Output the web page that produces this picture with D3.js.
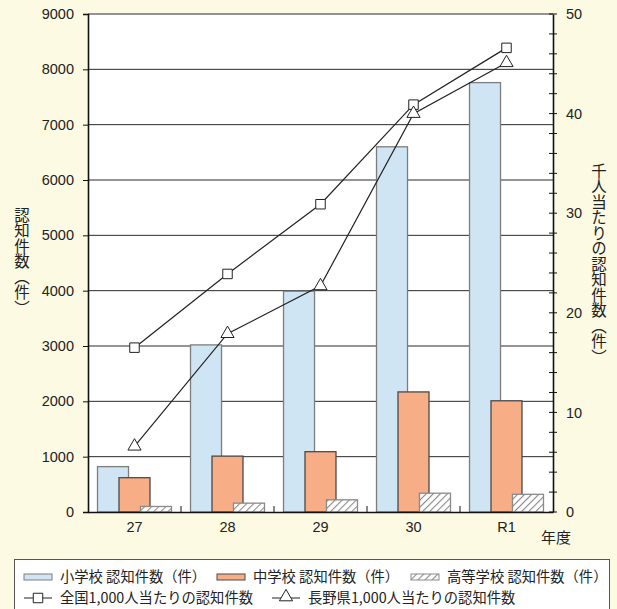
<!DOCTYPE html>
<html>
<head>
<meta charset="utf-8">
<script src="https://cdn.jsdelivr.net/npm/d3@7"></script>
<style>
  html, body { margin: 0; padding: 0; background: #fdfae3; }
  svg { display: block; }
  text { font-family: "Liberation Sans", Arial, "Noto Sans CJK JP", sans-serif; fill: #222; }
  .jp { font-family: "Noto Sans CJK JP", sans-serif; }
</style>
</head>
<body>
<div id="chart"></div>
<script>
// data
const categories = ["27", "28", "29", "30", "R1"];
const elementary = [820, 3020, 3990, 6600, 7760];
const juniorHigh = [620, 1010, 1090, 2170, 2010];
const highSchool = [100, 160, 220, 340, 320];
const nationalRate = [16.5, 23.9, 30.9, 40.9, 46.6];
const naganoRate = [6.6, 17.9, 22.7, 40.0, 45.1];
const leftTicks = [0, 1000, 2000, 3000, 4000, 5000, 6000, 7000, 8000, 9000];
const rightTicks = [0, 10, 20, 30, 40, 50];

const barNames = ["小学校 認知件数（件）", "中学校 認知件数（件）", "高等学校 認知件数（件）"];
const lineNames = ["全国1,000人当たりの認知件数", "長野県1,000人当たりの認知件数"];

const W = 617, H = 609;
const margin = {top: 14, right: 64, bottom: 97, left: 88};

const svg = d3.select("#chart").append("svg")
    .attr("width", W)
    .attr("height", H);

// hatch pattern for high school bars
const defs = svg.append("defs");
defs.append("pattern")
    .attr("id", "hatch")
    .attr("patternUnits", "userSpaceOnUse")
    .attr("width", 5).attr("height", 5)
    .attr("patternTransform", "rotate(45)")
  .call(p => {
    p.append("rect").attr("width", 5).attr("height", 5).attr("fill", "#fff");
    p.append("line").attr("x1", 0).attr("y1", 0).attr("x2", 0).attr("y2", 5)
      .attr("stroke", "#8c8c8c").attr("stroke-width", 2.2);
  });

const x = d3.scaleBand()
    .domain(categories)
    .range([margin.left, W - margin.right]);

const y = d3.scaleLinear()
    .domain([0, 9000])
    .range([H - margin.bottom, margin.top]);

const y2 = d3.scaleLinear()
    .domain([0, 50])
    .range([H - margin.bottom, margin.top]);

// plot background
svg.append("rect")
    .attr("x", margin.left).attr("y", margin.top)
    .attr("width", W - margin.left - margin.right)
    .attr("height", H - margin.top - margin.bottom)
    .attr("fill", "#fff");

// gridlines
svg.append("g")
  .selectAll("line")
  .data(leftTicks.slice(1))
  .join("line")
    .attr("x1", margin.left).attr("x2", W - margin.right)
    .attr("y1", d => y(d)).attr("y2", d => y(d))
    .attr("stroke", "#2a2a2a")
    .attr("stroke-width", 1);

// bars
const bw = x.bandwidth();
const barW = bw / 3;
const barStep = bw * 0.231;
const series = [
  {values: elementary, fill: "#cfe5f3", stroke: "#7d7d7d"},
  {values: juniorHigh, fill: "#f7ad85", stroke: "#4a4a4a"},
  {values: highSchool, fill: "url(#hatch)", stroke: "#8a8a8a"}
];

series.forEach((s, i) => {
  svg.append("g")
    .selectAll("rect")
    .data(s.values)
    .join("rect")
      .attr("x", (d, j) => x(categories[j]) + bw / 2 - barStep - barW / 2 + i * barStep)
      .attr("y", d => y(d))
      .attr("width", barW)
      .attr("height", d => y(0) - y(d))
      .attr("fill", s.fill)
      .attr("stroke", s.stroke)
      .attr("stroke-width", 1.3);
});

// left axis
const leftAxis = svg.append("g")
    .attr("transform", `translate(${margin.left},0)`)
    .call(d3.axisLeft(y).tickValues(leftTicks).tickSize(5).tickPadding(9).tickFormat(d3.format("d")));
leftAxis.select(".domain").attr("stroke", "#111").attr("stroke-width", 1.6);
leftAxis.selectAll(".tick line").attr("stroke", "#111");
leftAxis.selectAll("text").attr("font-size", 14.5).attr("fill", "#222")
    .style("font-family", "'Liberation Sans', Arial, sans-serif");

// right axis
const rightAxis = svg.append("g")
    .attr("transform", `translate(${W - margin.right},0)`)
    .call(d3.axisRight(y2).tickValues(rightTicks).tickSize(0).tickPadding(13).tickFormat(d3.format("d")));
rightAxis.select(".domain").attr("stroke", "#111").attr("stroke-width", 1.6);
rightAxis.selectAll("text").attr("font-size", 14.5).attr("fill", "#222")
    .style("font-family", "'Liberation Sans', Arial, sans-serif");
rightAxis.append("g")
  .selectAll("line")
  .data(d3.range(0, 51, 2))
  .join("line")
    .attr("x1", -4).attr("x2", 4)
    .attr("y1", d => y2(d)).attr("y2", d => y2(d))
    .attr("stroke", "#111");

// bottom axis
const bottomAxis = svg.append("g")
    .attr("transform", `translate(0,${H - margin.bottom})`)
    .call(d3.axisBottom(x).tickSize(0).tickPadding(10));
bottomAxis.select(".domain").attr("stroke", "#111").attr("stroke-width", 1.6);
bottomAxis.selectAll("text").attr("font-size", 14.5).attr("fill", "#222")
    .style("font-family", "'Liberation Sans', Arial, sans-serif");
bottomAxis.append("g")
  .selectAll("line")
  .data(categories.slice(1))
  .join("line")
    .attr("x1", d => x(d)).attr("x2", d => x(d))
    .attr("y1", 0).attr("y2", -6)
    .attr("stroke", "#111");

// lines
const cx = d => x(d) + bw / 2;
const line = d3.line().x(d => cx(d[0])).y(d => y2(d[1]));

const natPts = categories.map((c, i) => [c, nationalRate[i]]);
const nagPts = categories.map((c, i) => [c, naganoRate[i]]);

svg.append("path").datum(natPts).attr("d", line)
    .attr("fill", "none").attr("stroke", "#222").attr("stroke-width", 1.2);
svg.append("path").datum(nagPts).attr("d", line)
    .attr("fill", "none").attr("stroke", "#222").attr("stroke-width", 1.2);

const square = d3.symbol().type(d3.symbolSquare).size(90);
const triangle = d3.symbol().type(d3.symbolTriangle).size(75);

svg.append("g").selectAll("path")
  .data(natPts)
  .join("path")
    .attr("d", square)
    .attr("transform", d => `translate(${cx(d[0])},${y2(d[1])})`)
    .attr("fill", "#fff").attr("stroke", "#222").attr("stroke-width", 1);

svg.append("g").selectAll("path")
  .data(nagPts)
  .join("path")
    .attr("d", triangle)
    .attr("transform", d => `translate(${cx(d[0])},${y2(d[1])})`)
    .attr("fill", "#fff").attr("stroke", "#222").attr("stroke-width", 1);

// axis titles
svg.append("text")
    .attr("class", "jp")
    .attr("x", 22).attr("y", 207)
    .attr("font-size", 15.5)
    .style("writing-mode", "vertical-rl")
    .text("認知件数（件）");

svg.append("text")
    .attr("class", "jp")
    .attr("x", 599).attr("y", 163)
    .attr("font-size", 15.5)
    .style("writing-mode", "vertical-rl")
    .text("千人当たりの認知件数（件）");

svg.append("text")
    .attr("class", "jp")
    .attr("x", 541).attr("y", 543)
    .attr("font-size", 15)
    .text("年度");

// legend
svg.append("rect")
    .attr("x", 14.5).attr("y", 559.5)
    .attr("width", 595).attr("height", 60)
    .attr("fill", "#fff").attr("stroke", "#555").attr("stroke-width", 1);

const lg = svg.append("g").attr("class", "legend");
const row1 = 577, row2 = 598;
const barLegendX = [24, 217, 411];

barNames.forEach((name, i) => {
  lg.append("rect")
    .attr("x", barLegendX[i]).attr("y", row1 - 3)
    .attr("width", 28).attr("height", 6)
    .attr("fill", series[i].fill)
    .attr("stroke", series[i].stroke).attr("stroke-width", 1);
  lg.append("text")
    .attr("x", barLegendX[i] + 36).attr("y", row1)
    .attr("dy", "0.36em")
    .attr("font-size", 14.3)
    .style("font-family", "'Noto Sans CJK JP', sans-serif")
    .text(name);
});

const lineLegendX = [24, 272];
const lineSyms = [square, triangle];
lineNames.forEach((name, i) => {
  const x0 = lineLegendX[i];
  lg.append("line")
    .attr("x1", x0).attr("x2", x0 + 28)
    .attr("y1", row2).attr("y2", row2)
    .attr("stroke", "#222");
  lg.append("path")
    .attr("d", lineSyms[i])
    .attr("transform", `translate(${x0 + 14},${row2 + (i ? -1 : 0)})`)
    .attr("fill", "#fff").attr("stroke", "#222");
  lg.append("text")
    .attr("x", x0 + 36).attr("y", row2)
    .attr("dy", "0.36em")
    .attr("font-size", 14.3)
    .style("font-family", "'Noto Sans CJK JP', sans-serif")
    .text(name);
});
</script>
</body>
</html>
